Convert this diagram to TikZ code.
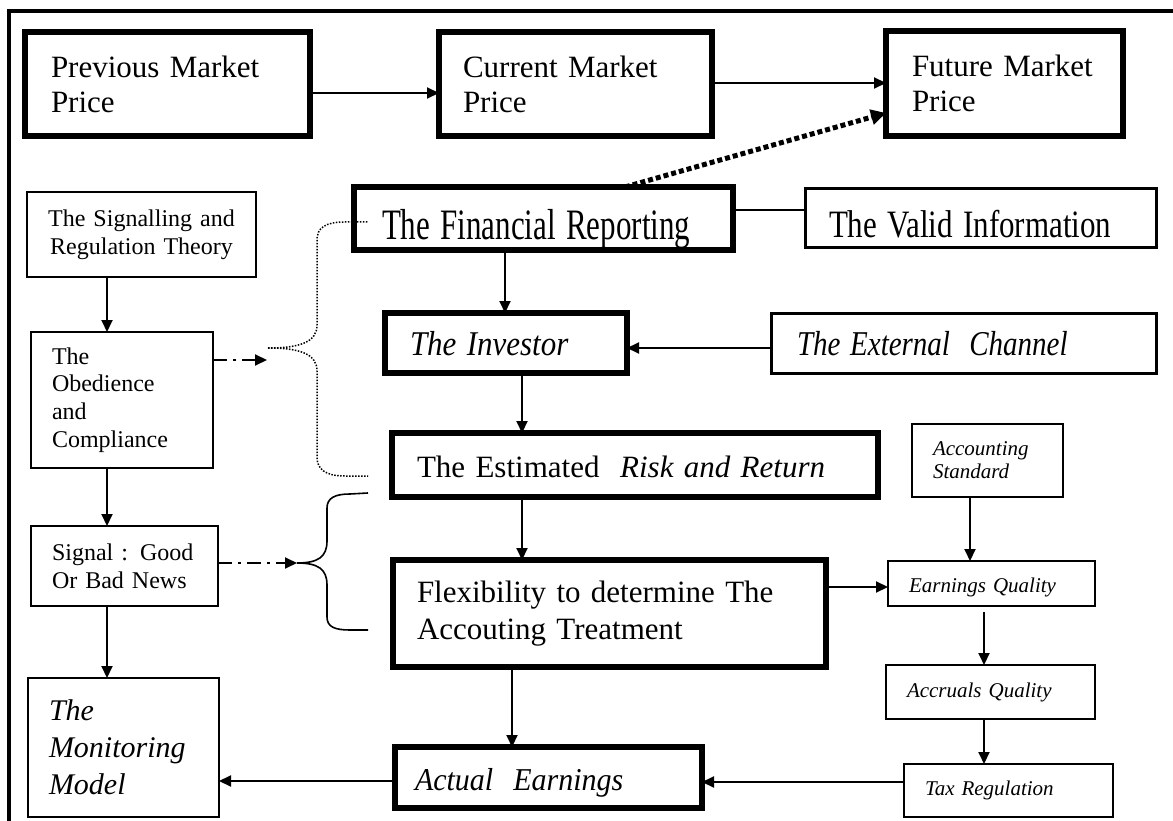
\documentclass[tikz,border=0pt]{standalone}
\usepackage{fontspec}
\usepackage{graphicx}
\setmainfont{Liberation Serif}
\usetikzlibrary{arrows.meta}
\begin{document}
\begin{tikzpicture}[x=1pt,y=-1pt,
  box/.style={draw, anchor=north west, inner ysep=0pt, outer sep=0pt, align=left},
  thick box/.style={box, line width=6pt},
  med box/.style={box, line width=3pt},
  thin box/.style={box, line width=2pt},
  fine box/.style={box, line width=1.6pt},
  big/.style={font=\fontsize{31}{35}\selectfont},
  bigit/.style={font=\fontsize{31}{35}\selectfont\itshape},
  mid/.style={font=\fontsize{24}{27.7}\selectfont},
  monit/.style={font=\fontsize{30}{37}\selectfont\itshape},
  sml/.style={font=\fontsize{21}{23}\selectfont\itshape},
  arr/.style={line width=2pt, -{Triangle[length=12pt,width=11pt]}},
  dotarr/.style={line width=5pt, dash pattern=on 5pt off 3pt, -{Triangle[length=15pt,width=15pt]}},
  dda/.style={line width=2pt, dash pattern=on 14pt off 6pt on 3pt off 6pt, -{Triangle[length=12pt,width=11pt]}},
  thindot/.style={line width=1.5pt, dash pattern=on 1.5pt off 1.5pt},
  brace/.style={line width=1.6pt}
]
\useasboundingbox (0,0) rectangle (1173,821);
% outer frame
\draw[line width=3.5pt] (9,821) -- (9,11) -- (1173,11);

% boxes
\node[thick box, big, minimum width=285pt, minimum height=104pt, inner xsep=26pt, text width=233pt] (prev) at (25,32) {Previous Market\\Price};
\node[thick box, big, minimum width=273pt, minimum height=104pt, inner xsep=24pt, text width=225pt] (curr) at (439,32) {Current Market\\Price};
\node[thick box, big, minimum width=237pt, minimum height=105pt, inner xsep=26pt, text width=185pt] (fut) at (886,31) {Future Market\\Price};

\node[thin box, mid, align=center, minimum width=229pt, minimum height=85pt, inner xsep=5pt, text width=219pt] (sig) at (27,192) {The Signalling and\\Regulation Theory};
\node[thin box, mid, minimum width=182pt, minimum height=136pt, inner xsep=21pt, text width=140pt] (obe) at (31,332) {The\\Obedience\\and\\Compliance};
\node[thin box, mid, minimum width=187pt, minimum height=80pt, inner xsep=21pt, text width=145pt] (sgn) at (31,526) {Signal : Good\\Or Bad News};
\node[thin box, monit, minimum width=191pt, minimum height=139pt, inner xsep=21pt, text width=149pt] (mon) at (28,678) {The\\Monitoring\\Model};

\node[thick box, big, minimum width=379pt, minimum height=63pt, inner xsep=28pt, text width=323pt, text height=43pt, text depth=0pt] (fr) at (354,187) {\scalebox{1}[1.4]{The Financial Reporting}};
\node[med box, big, minimum width=351pt, minimum height=59pt, inner xsep=24pt, text width=303pt, text height=39pt, text depth=0pt] (val) at (805,189) {\scalebox{1}[1.25]{The Valid Information}};
\node[thick box, bigit, minimum width=242pt, minimum height=60pt, inner xsep=25pt, text width=192pt, text height=24pt, text depth=0pt] (inv) at (385,313) {\scalebox{1}[1.12]{The Investor}};
\node[med box, minimum width=385pt, minimum height=60pt, inner xsep=26pt, text width=333pt, text height=24pt, text depth=0pt, font=\fontsize{29}{35}\selectfont\itshape] (ext) at (771,313) {\scalebox{1}[1.2]{The External~ Channel}};
\node[thick box, big, minimum width=486pt, minimum height=64pt, inner xsep=25pt, text width=436pt, text height=24pt, text depth=0pt] (est) at (392,433) {The Estimated~ \textit{Risk and Return}};
\node[thick box, big, minimum width=433pt, minimum height=107pt, inner xsep=24pt, text width=385pt, font=\fontsize{31}{37}\selectfont] (flex) at (393,560) {Flexibility to determine The\\Accouting Treatment};
\node[thick box, minimum width=307pt, minimum height=61pt, inner xsep=20pt, text width=267pt, text height=25pt, text depth=0pt, font=\fontsize{30}{35}\selectfont\itshape] (act) at (395,747) {\scalebox{1}[1.06]{Actual~ Earnings}};

\node[fine box, sml, minimum width=151pt, minimum height=73pt, inner xsep=21pt, text width=109pt] (acs) at (912,424) {Accounting\\Standard};
\node[fine box, sml, minimum width=207pt, minimum height=45pt, inner xsep=21pt, text width=165pt, text height=17pt, text depth=0pt] (eq) at (888,561) {Earnings Quality};
\node[fine box, sml, minimum width=209pt, minimum height=54pt, inner xsep=21pt, text width=167pt, text height=10pt, text depth=0pt] (aq) at (886,665) {Accruals Quality};
\node[fine box, sml, minimum width=209pt, minimum height=53pt, inner xsep=21pt, text width=167pt, text height=9pt, text depth=0pt] (tax) at (904,764) {Tax Regulation};

% helper coordinates
\coordinate (cL) at (107,0);
\coordinate (r1) at (0,93);
\coordinate (r2) at (0,83);
\coordinate (d1) at (625,0);
\coordinate (d2) at (0,113);
\coordinate (r3) at (0,210);
\coordinate (c2) at (505,0);
\coordinate (r4) at (0,348);
\coordinate (c3) at (522,0);
\coordinate (c4) at (512,0);
\coordinate (r5) at (0,587);
\coordinate (c5) at (970,0);
\coordinate (c6) at (984,0);
\coordinate (q1) at (984,612);
\coordinate (r6) at (0,782);
\coordinate (r7) at (0,781);
\coordinate (b1) at (267,360);
\coordinate (b2) at (297,563);

% connectors
\draw[arr] (prev.east |- r1) -- (curr.west |- r1);
\draw[arr] (curr.east |- r2) -- (fut.west |- r2);
\draw[dotarr] (fr.north -| d1) -- (fut.west |- d2);
\draw[line width=2pt] (fr.east |- r3) -- (val.west |- r3);
\draw[arr] (fr.south -| c2) -- (inv.north -| c2);
\draw[arr] (ext.west |- r4) -- (inv.east |- r4);
\draw[arr] (inv.south -| c3) -- (est.north -| c3);
\draw[arr] (est.south -| c3) -- (flex.north -| c3);
\draw[arr] (flex.south -| c4) -- (act.north -| c4);
\draw[arr] (flex.east |- r5) -- (eq.west |- r5);
\draw[arr] (acs.south -| c5) -- (eq.north -| c5);
\draw[arr] (q1) -- (aq.north -| c6);
\draw[arr] (aq.south -| c6) -- (tax.north -| c6);
\draw[arr] (tax.west |- r6) -- (act.east |- r6);
\draw[arr] (act.west |- r7) -- (mon.east |- r7);
\draw[arr] (sig.south -| cL) -- (obe.north -| cL);
\draw[arr] (obe.south -| cL) -- (sgn.north -| cL);
\draw[arr] (sgn.south -| cL) -- (mon.north -| cL);
\draw[dda] (obe.east |- b1) -- (b1);
\draw[dda] (sgn.east |- b2) -- (b2);

% dotted brace
\coordinate (k1) at (268,348);
\draw[thindot] (k1) .. controls (300,348) and (317,342) .. (317,325) -- (317,240) .. controls (317,228) and (325,222) .. (345,222) -- (368,222);
\draw[thindot] (k1) .. controls (300,348) and (317,354) .. (317,371) -- (317,457) .. controls (317,469) and (325,476) .. (345,476) -- (368,476);
% solid brace
\draw[brace] (b2) .. controls (318,563) and (327,557) .. (327,541) -- (327,508) .. controls (327,498) and (335,494) .. (350,494) -- (368,493);
\draw[brace] (b2) .. controls (318,563) and (327,569) .. (327,585) -- (327,617) .. controls (327,627) and (335,630) .. (350,630) -- (368,630);
\end{tikzpicture}
\end{document}
